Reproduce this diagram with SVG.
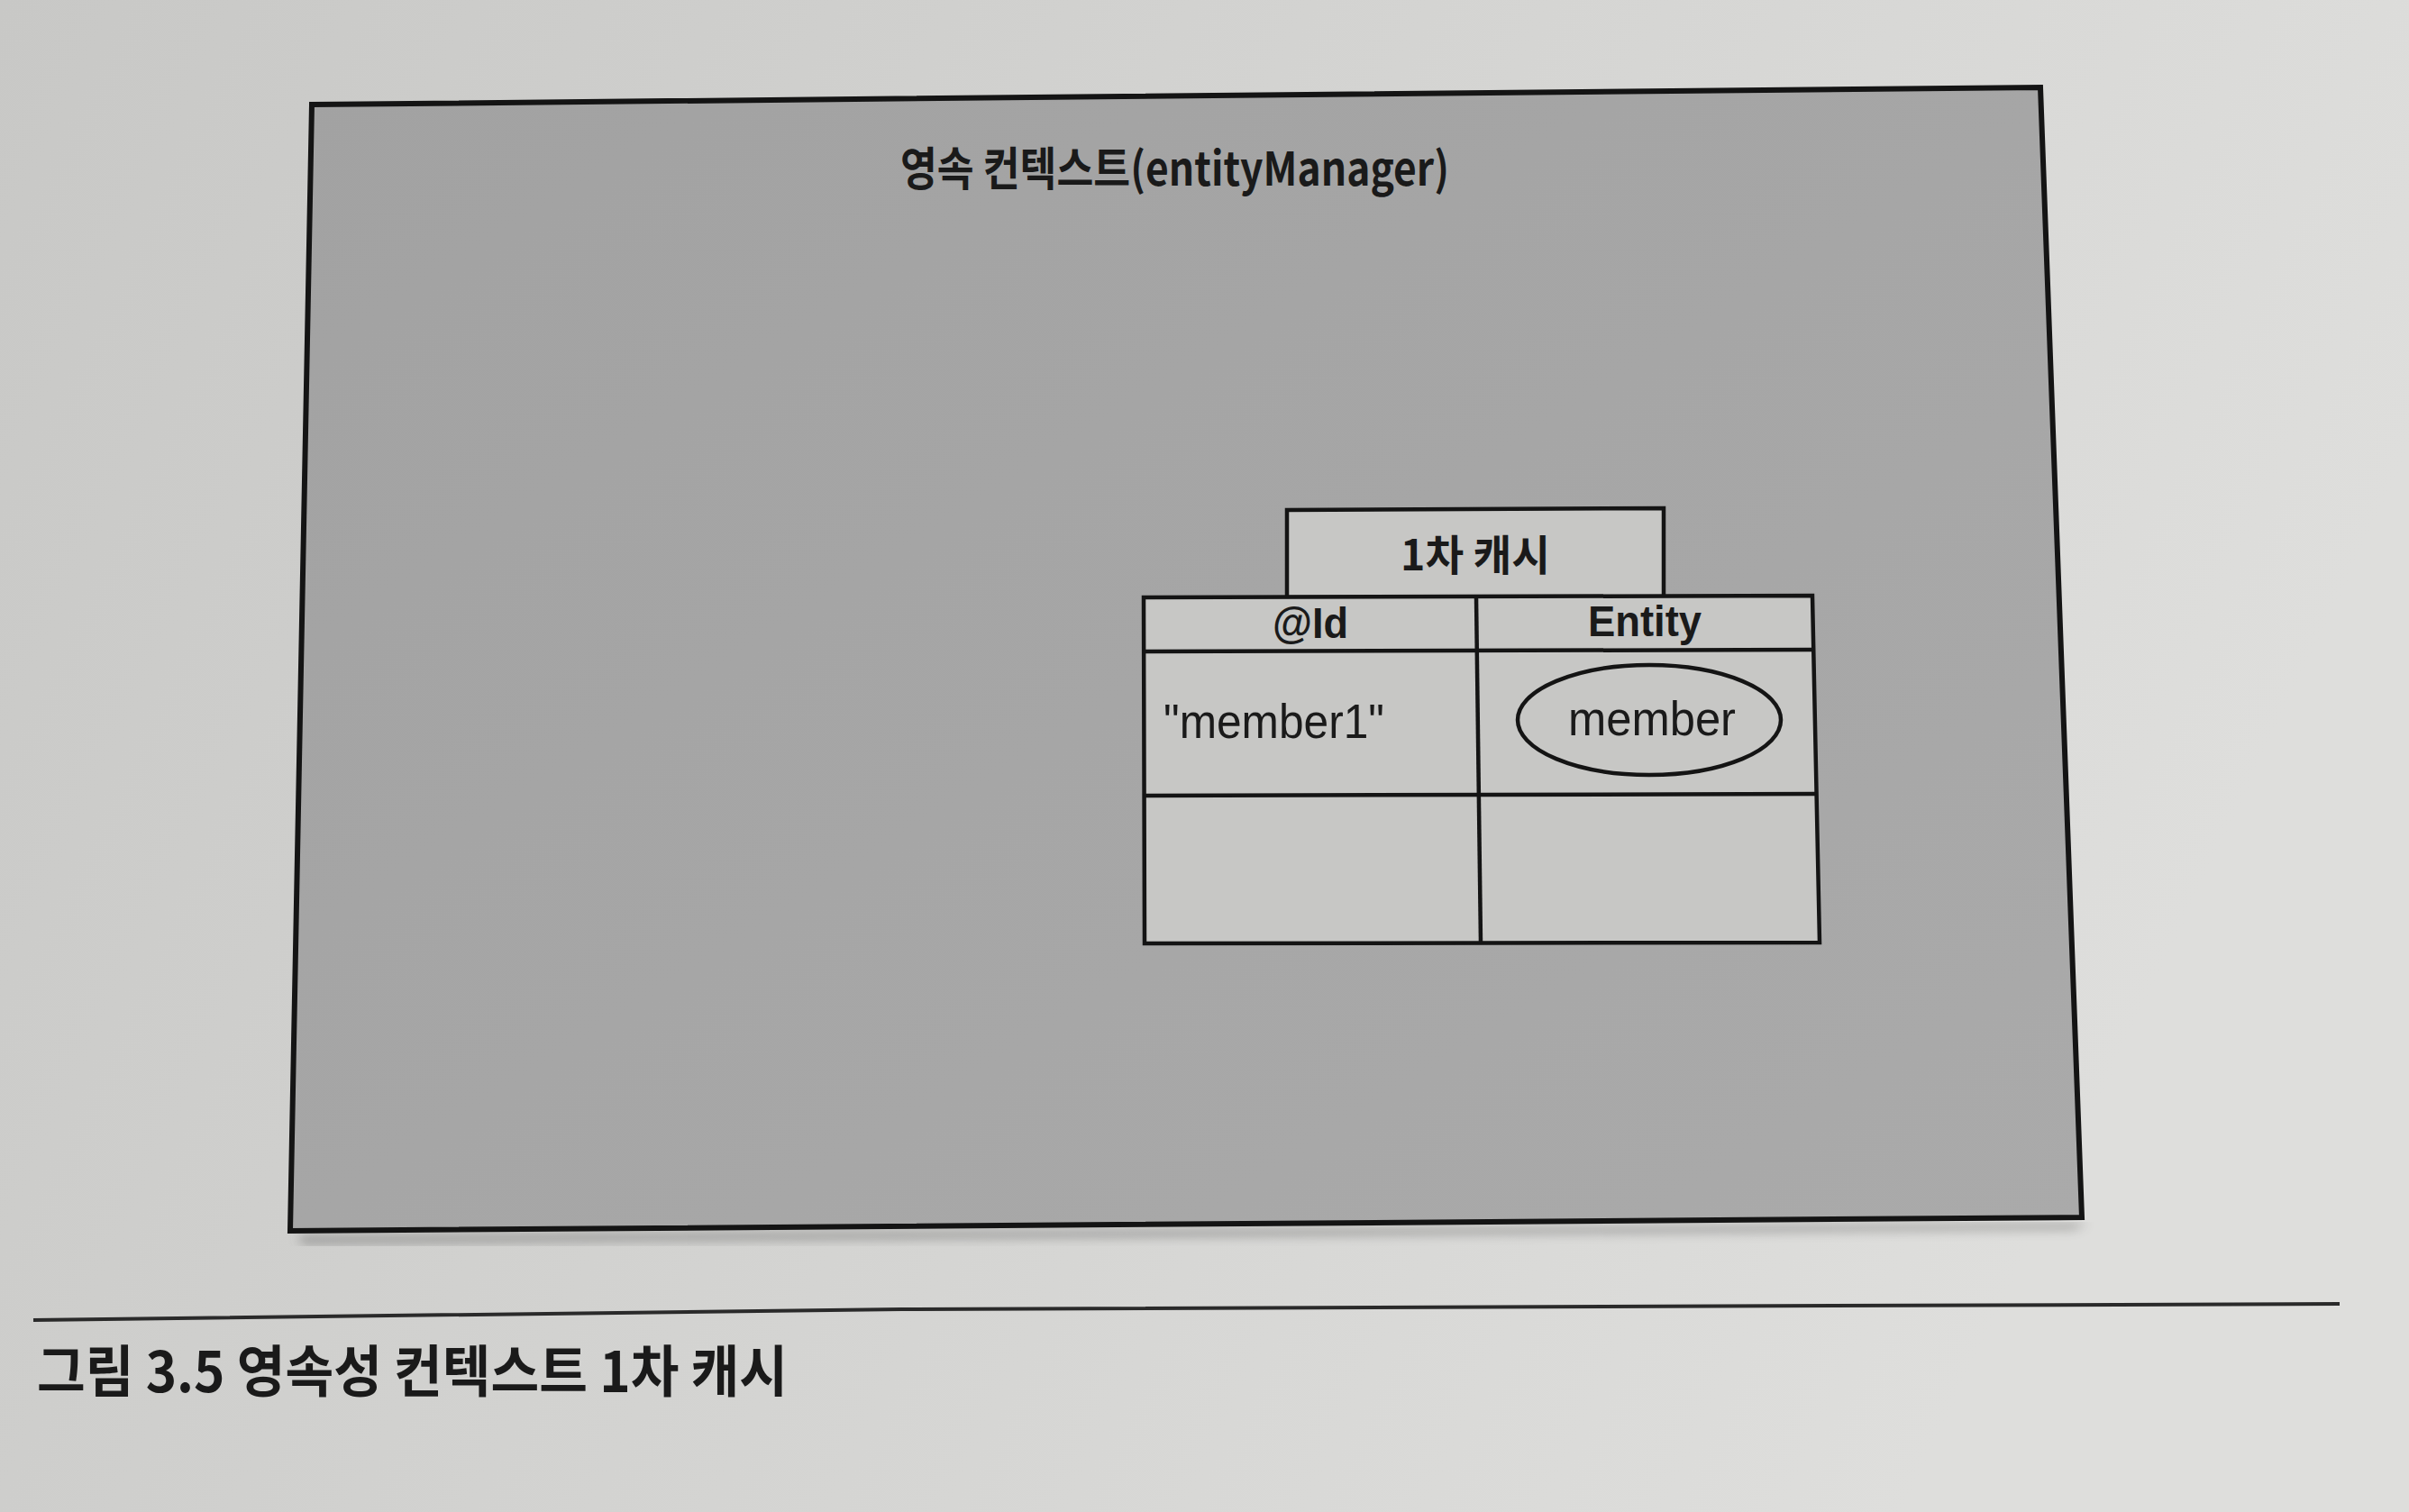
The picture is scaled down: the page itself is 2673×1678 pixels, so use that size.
<svg xmlns="http://www.w3.org/2000/svg" width="2673" height="1678" viewBox="0 0 2673 1678">
<defs>
<linearGradient id="page" x1="0" y1="0" x2="1" y2="0.3">
<stop offset="0" stop-color="#c8c8c6"/>
<stop offset="0.5" stop-color="#d3d3d1"/>
<stop offset="1" stop-color="#dededc"/>
</linearGradient>
<linearGradient id="boxfill" x1="0" y1="0" x2="1" y2="1">
<stop offset="0" stop-color="#a2a2a2"/>
<stop offset="1" stop-color="#aaaaaa"/>
</linearGradient>
<filter id="shadow" x="-5%" y="-5%" width="110%" height="115%">
<feGaussianBlur stdDeviation="6"/>
</filter>
<style>
.frame{fill:url(#boxfill);stroke:#141414;stroke-width:6;stroke-linejoin:miter}
.cell{fill:#c7c7c5;stroke:#141414;stroke-width:4.5}
.line{fill:none;stroke:#141414;stroke-width:4.5}
.kr{font-family:"Noto Sans CJK KR","Noto Sans",sans-serif;fill:#1a1a1a}
.en{font-family:"Liberation Sans",Arial,sans-serif;fill:#1a1a1a}
</style>
</defs>
<rect x="0" y="0" width="2673" height="1678" fill="url(#page)"/>

<g id="persistence-context">
<polygon points="330,1372 2316,1358 2300,1364 336,1380" fill="#555" opacity="0.5" filter="url(#shadow)"/>
<polygon class="frame" points="346,116 2264,97 2310,1351 322,1366"/>
<text class="kr" x="999" y="206" font-size="51" font-weight="700" textLength="609" lengthAdjust="spacingAndGlyphs">영속 컨텍스트(entityManager)</text>
</g>

<g id="first-level-cache">
<polygon class="cell" points="1428,566 1846,564 1846,662 1428,663"/>
<text class="kr" x="1637" y="633" font-size="47" font-weight="700" text-anchor="middle" textLength="166" lengthAdjust="spacingAndGlyphs">1차 캐시</text>
</g>

<g id="cache-table">
<polygon class="cell" points="1269,663 2011,661 2019,1046 1270,1047"/>
<line class="line" x1="1269" y1="723" x2="2012" y2="721"/>
<line class="line" x1="1270" y1="883" x2="2015" y2="881"/>
<line class="line" x1="1638" y1="663" x2="1643" y2="1047"/>
<text class="en" x="1454" y="708" font-size="48" font-weight="700" text-anchor="middle" textLength="84" lengthAdjust="spacingAndGlyphs">@Id</text>
<text class="en" x="1825" y="706" font-size="48" font-weight="700" text-anchor="middle" textLength="126" lengthAdjust="spacingAndGlyphs">Entity</text>
<text class="en" x="1291" y="819" font-size="53" textLength="245" lengthAdjust="spacingAndGlyphs">"member1"</text>
</g>

<g id="member-entity">
<ellipse cx="1830" cy="799" rx="146" ry="61" fill="none" stroke="#141414" stroke-width="4.5"/>
<text class="en" x="1833" y="816" font-size="53" text-anchor="middle" textLength="186" lengthAdjust="spacingAndGlyphs">member</text>
</g>

<g id="connectors"></g>

<g id="caption">
<polyline points="37,1465 1000,1453 2596,1447" fill="none" stroke="#2a2a2a" stroke-width="4"/>
<text class="kr" x="41" y="1545" font-size="62" font-weight="700" textLength="833" lengthAdjust="spacingAndGlyphs">그림 3.5 영속성 컨텍스트 1차 캐시</text>
</g>
</svg>
